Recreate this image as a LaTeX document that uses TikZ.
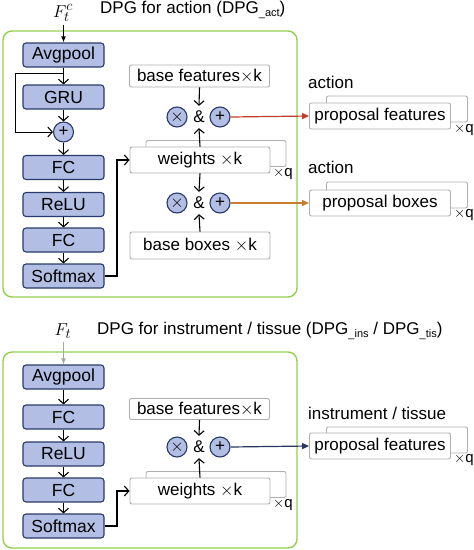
\documentclass[tikz,border=0pt]{standalone}
\usepackage{fontspec}
\setmainfont{Liberation Sans}
\usetikzlibrary{arrows.meta}
\definecolor{grn}{RGB}{146,208,80}
\definecolor{bfill}{RGB}{178,190,228}
\definecolor{bdraw}{RGB}{40,58,105}
\definecolor{gbox}{RGB}{175,175,175}
\definecolor{redc}{RGB}{192,60,40}
\definecolor{orgc}{RGB}{200,125,45}
\definecolor{navc}{RGB}{40,55,95}
\tikzset{
  blk/.style={draw=bdraw, fill=bfill, line width=1.1pt, rounded corners=3pt, minimum width=81pt, minimum height=24pt, inner sep=0pt, font=\fontsize{17.5}{17.5}\selectfont},
  pbox/.style={draw=gbox, fill=white, line width=0.9pt, rounded corners=2pt, minimum width=140pt, minimum height=26pt, inner sep=0pt, font=\fontsize{17}{17}\selectfont},
  opc/.style={circle, draw=bdraw, fill=bfill, line width=1.1pt, minimum size=20pt, inner sep=0pt, font=\fontsize{17}{17}\selectfont},
  grnbox/.style={draw=grn, line width=1.4pt, rounded corners=9pt},
  lbl/.style={font=\fontsize{17}{17}\selectfont, inner sep=0pt},
  ampn/.style={font=\fontsize{17}{17}\selectfont, inner xsep=0pt, inner ysep=5pt},
  fl/.style={font=\fontsize{19}{19}\selectfont, inner sep=0pt},
  xq/.style={font=\fontsize{15}{15}\selectfont, inner sep=0pt},
  va/.style={-{Straight Barb[length=4.5pt,width=10pt]}, line width=1.1pt, black},
  ca/.style={-{Triangle[length=7pt,width=6pt]}, line width=1.2pt},
}
\newcommand{\subsm}[1]{\raisebox{-3pt}{\fontsize{11}{11}\selectfont\_#1}}
\begin{document}
\begin{tikzpicture}[x=1pt,y=-1pt]
\useasboundingbox (0,0) rectangle (474,550);
% ---------------- top section ----------------
\node[fl] (F1) at (63,13) {$F_t^c$};
\node[lbl, anchor=west] (T1) at (100,10) {DPG for action (DPG\subsm{act})};
\draw[grnbox] (3,31) rectangle (297,297);
\node[blk] (ap1) at (63.5,55) {Avgpool};
\node[blk] (gru) at (63.5,97) {GRU};
\node[opc] (pl) at (63.5,132) {+};
\node[blk] (fc1) at (63.5,167.5) {FC};
\node[blk] (re1) at (63.5,204.5) {ReLU};
\node[blk] (fc2) at (63.5,240) {FC};
\node[blk] (sm1) at (63.5,276) {Softmax};
\draw[-{Latex[length=6pt,width=5pt]}, line width=1.1pt] (63.5,25) -- (ap1.north);
\draw[va] (ap1) -- (gru);
\coordinate (lp) at (63.5,73);
\draw[va, line width=1pt] (lp) -- (15,73) |- (pl.west);
\draw[va] (gru) -- (pl);
\draw[va] (pl) -- (fc1);
\draw[va] (fc1) -- (re1);
\draw[va] (re1) -- (fc2);
\draw[va] (fc2) -- (sm1);
% centre
\node[pbox, minimum height=22pt] (bf1) at (199.5,76) {base features$\times$k};
\node[opc] (m1) at (177,117) {$\times$};
\node[opc] (a1) at (220,117) {+};
\node[ampn] (amp1) at (199,117) {\&};
\node[pbox] (w1b) at (216,153.5) {};
\node[pbox] (w1) at (200,160) {weights $\times$k};
\node[xq] (q1) at (283,174) {$\times$q};
\node[opc] (m2) at (177,203) {$\times$};
\node[opc] (a2) at (220,203) {+};
\node[ampn] (amp2) at (199,203) {\&};
\node[pbox, minimum height=27pt] (bb) at (200,245.5) {base boxes $\times$k};
\draw[va] (bf1.south) -- (amp1.north);
\draw[va] (w1.north) -- (amp1.south);
\draw[va] (w1.south) -- (amp2.north);
\draw[va] (bb.north) -- (amp2.south);
\draw[va] (sm1.east) -- (117,276) |- (w1.west);
% right
\node[lbl, anchor=west] (act1) at (308,82) {action};
\node[pbox, minimum width=141pt] (pf1b) at (397,109) {};
\node[pbox, minimum width=141pt] (pf1) at (380,116) {proposal features};
\node[xq] (q2) at (464,130) {$\times$q};
\node[lbl, anchor=west] (act2) at (308,167) {action};
\node[pbox, minimum width=141pt] (pb1b) at (397,195) {};
\node[pbox, minimum width=141pt] (pb1) at (380,203) {proposal boxes};
\node[xq] (q3) at (464,215) {$\times$q};
\draw[ca, redc] (a1.east) -- (pf1.west);
\draw[ca, orgc] (a2.east) -- (pb1.west);
% ---------------- bottom section ----------------
\node[fl] (F2) at (63,331) {$F_t$};
\node[lbl, anchor=west] (T2) at (97,331) {DPG for instrument / tissue (DPG\subsm{ins} / DPG\subsm{tis})};
\draw[grnbox] (3,352) rectangle (297,548);
\node[blk] (ap2) at (63.5,377) {Avgpool};
\node[blk] (fc3) at (63.5,417) {FC};
\node[blk] (re2) at (63.5,454) {ReLU};
\node[blk] (fc4) at (63.5,490) {FC};
\node[blk] (sm2) at (63.5,526) {Softmax};
\draw[-{Latex[length=6pt,width=5pt]}, line width=1.1pt, gray!70] (63.5,342) -- (ap2.north);
\draw[va] (ap2) -- (fc3);
\draw[va] (fc3) -- (re2);
\draw[va] (re2) -- (fc4);
\draw[va] (fc4) -- (sm2);
\node[pbox, minimum height=21pt] (bf2) at (199.5,409) {base features$\times$k};
\node[opc] (m3) at (177,447) {$\times$};
\node[opc] (a3) at (220,447) {+};
\node[ampn] (amp3) at (199,447) {\&};
\node[pbox] (w2b) at (216,484.5) {};
\node[pbox] (w2) at (200,491) {weights $\times$k};
\node[xq] (q4) at (283,505) {$\times$q};
\draw[va] (bf2.south) -- (amp3.north);
\draw[va] (w2.north) -- (amp3.south);
\draw[va] (sm2.east) -- (117,526) |- (w2.west);
\node[lbl, anchor=west] (it) at (308,413) {instrument / tissue};
\node[pbox, minimum width=141pt] (pf2b) at (397,440) {};
\node[pbox, minimum width=141pt] (pf2) at (380,446) {proposal features};
\node[xq] (q5) at (464,460) {$\times$q};
\draw[ca, navc] (a3.east) -- (pf2.west);
\end{tikzpicture}
\end{document}
